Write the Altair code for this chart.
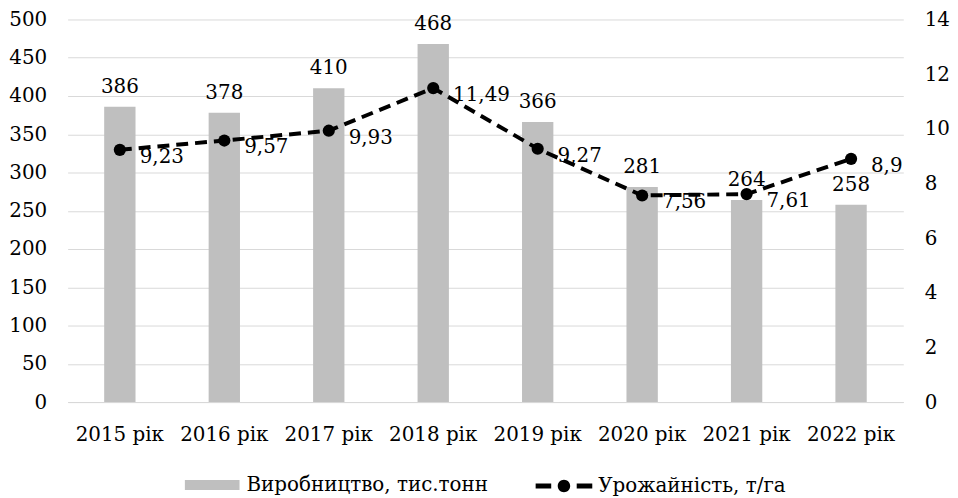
import altair as alt
import pandas as pd

years = ["2015 рік", "2016 рік", "2017 рік", "2018 рік", "2019 рік", "2020 рік", "2021 рік", "2022 рік"]
production = [386, 378, 410, 468, 366, 281, 264, 258]
yields = [9.23, 9.57, 9.93, 11.49, 9.27, 7.56, 7.61, 8.9]
prod_name = "Виробництво, тис.тонн"
yield_name = "Урожайність, т/га"
left_ticks = list(range(0, 501, 50))
right_ticks = list(range(0, 15, 2))

FONT = "DejaVu Serif"
FS = 20

df = pd.DataFrame({"year": years, "prod": production, "yld": yields,
                   "s1": prod_name, "s2": yield_name})

base = alt.Chart(df).encode(
    x=alt.X("year:N", sort=years,
            scale=alt.Scale(paddingInner=0.7, paddingOuter=0.35),
            axis=alt.Axis(title=None, labelAngle=0, ticks=False, grid=False,
                          domainColor="#D9D9D9", domainWidth=1, labelPadding=23))
)

y_left = alt.Y("prod:Q", scale=alt.Scale(domain=[0, 500], nice=False),
               axis=alt.Axis(title=None, orient="left", values=left_ticks, ticks=False,
                             domain=False, grid=True, gridColor="#D9D9D9", gridWidth=1,
                             labelOverlap=False, labelPadding=21, minExtent=59, maxExtent=59))

bars = base.mark_bar().encode(
    y=y_left,
    fill=alt.Fill("s1:N", scale=alt.Scale(domain=[prod_name], range=["#BFBFBF"]),
                  legend=alt.Legend(title=None, orient="none", legendX=118, legendY=441,
                                    symbolType="M-1,-0.18H1V0.18H-1Z", symbolSize=3025,
                                    symbolStrokeWidth=0, labelFont=FONT,
                                    labelFontSize=FS, labelColor="#000", labelOffset=7,
                                    labelLimit=400, padding=0))
)
bar_text = base.mark_text(font=FONT, fontSize=FS, color="#000",
                          baseline="alphabetic", dy=-14).encode(y=y_left, text=alt.Text("prod:Q"))

y_right = alt.Y("yld:Q", scale=alt.Scale(domain=[0, 14], nice=False),
                axis=alt.Axis(title=None, orient="right", values=right_ticks, ticks=False,
                              domain=False, grid=False, labelOverlap=False, labelPadding=21))

line = base.mark_line(color="black", strokeWidth=4, strokeDash=[12, 7]).encode(y=y_right)
points = base.mark_point(filled=True, color="black", size=150).encode(
    y=y_right,
    opacity=alt.Opacity("s2:N", scale=alt.Scale(domain=[yield_name], range=[1]),
                        legend=alt.Legend(title=None, orient="none", legendX=471, legendY=441,
                                          symbolType=("M-1,-0.088H-0.45V0.088H-1Z"
                                                      "M0.45,-0.088H1V0.088H0.45Z"
                                                      "M-0.22,0A0.22,0.22,0,1,1,0.22,0A0.22,0.22,0,1,1,-0.22,0Z"),
                                          symbolSize=3249, symbolFillColor="black",
                                          symbolStrokeWidth=0,
                                          labelFont=FONT, labelFontSize=FS, labelColor="#000",
                                          labelOffset=6, labelLimit=400, padding=0))
)
line_text = base.transform_calculate(
    lbl="replace(format(datum.yld, '.2~f'), '.', ',')"
).mark_text(font=FONT, fontSize=FS, color="#000", align="left", baseline="middle",
            dx=20, dy=7).encode(y=y_right, text="lbl:N")

left = alt.layer(bars, bar_text)
right = alt.layer(line, points, line_text)

chart = alt.layer(left, right).resolve_scale(y="independent").properties(
    width=841, height=385, padding={"left": 0, "top": 0, "right": 0, "bottom": 0}
).configure_view(stroke=None).configure_axis(
    labelFont=FONT, labelFontSize=FS, labelColor="#000"
)

chart.save("out.html", embed_options={"renderer": "svg", "actions": False})
